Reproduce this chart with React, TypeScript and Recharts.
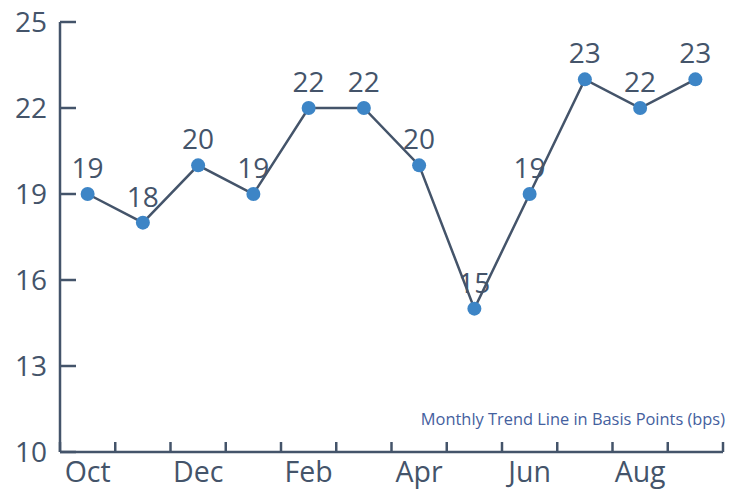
import { LineChart, Line, XAxis, YAxis, LabelList } from 'recharts';

if (typeof document !== 'undefined') document.body.style.margin = '0';

const months = ['Oct', 'Nov', 'Dec', 'Jan', 'Feb', 'Mar', 'Apr', 'May', 'Jun', 'Jul', 'Aug', 'Sep'];
const bps = [19, 18, 20, 19, 22, 22, 20, 15, 19, 23, 22, 23];
const yTicks = [10, 13, 16, 19, 22, 25];

const INK = '#44546A';
const DOT = '#3D85C6';
const FONT = '"Open Sans", sans-serif';

const data = months.map((m, i) => ({ idx: i, month: m, value: bps[i] }));

// boundaries get a tick mark, every other band center gets the month name
const xTicks: number[] = [];
for (let i = 0; i <= months.length; i++) {
  xTicks.push(i - 0.5);
  if (i < months.length && i % 2 === 0) xTicks.push(i);
}

function XTick({ x, y, payload }: any) {
  const v = payload.value as number;
  if (!Number.isInteger(v)) {
    return <line x1={x} y1={y} x2={x} y2={y - 10} stroke={INK} strokeWidth={2.5} />;
  }
  return (
    <text x={x} y={y + 30} textAnchor="middle" fill={INK} fontSize={28.5} fontFamily={FONT}>
      {months[v]}
    </text>
  );
}

function YTick({ x, y, payload }: any) {
  return (
    <g>
      <line x1={x} y1={y} x2={x + 16} y2={y} stroke={INK} strokeWidth={2.5} />
      <text x={x - 13} y={y} dy="0.35em" textAnchor="end" fill={INK} fontSize={28} fontFamily={FONT}>
        {payload.value}
      </text>
    </g>
  );
}

export default function App() {
  return (
    <div style={{ position: 'relative', width: 740, height: 490, background: '#fff' }}>
      <LineChart width={740} height={490} data={data} margin={{ top: 22, right: 17, left: 0, bottom: 0 }}>
        <XAxis
          dataKey="idx"
          type="number"
          domain={[-0.5, 11.5]}
          ticks={xTicks}
          interval={0}
          height={38}
          tickSize={0}
          tickMargin={0}
          tickLine={false}
          tick={<XTick />}
          axisLine={{ stroke: INK, strokeWidth: 2.5 }}
        />
        <YAxis
          domain={[10, 25]}
          ticks={yTicks}
          interval={0}
          width={60}
          tickSize={0}
          tickMargin={0}
          tickLine={false}
          tick={<YTick />}
          axisLine={{ stroke: INK, strokeWidth: 2.5 }}
        />
        <Line
          type="linear"
          dataKey="value"
          stroke={INK}
          strokeWidth={2.5}
          dot={{ r: 7, fill: DOT, stroke: DOT, strokeWidth: 0 }}
          activeDot={false}
          isAnimationActive={false}
        >
          <LabelList dataKey="value" position="top" offset={16} fill={INK} fontSize={28} fontFamily={FONT} />
        </Line>
      </LineChart>
      <div
        style={{
          position: 'absolute',
          right: 15,
          top: 407,
          fontFamily: FONT,
          fontSize: 16.4,
          color: '#44609E',
          whiteSpace: 'nowrap',
        }}
      >
        Monthly Trend Line in Basis Points (bps)
      </div>
    </div>
  );
}
